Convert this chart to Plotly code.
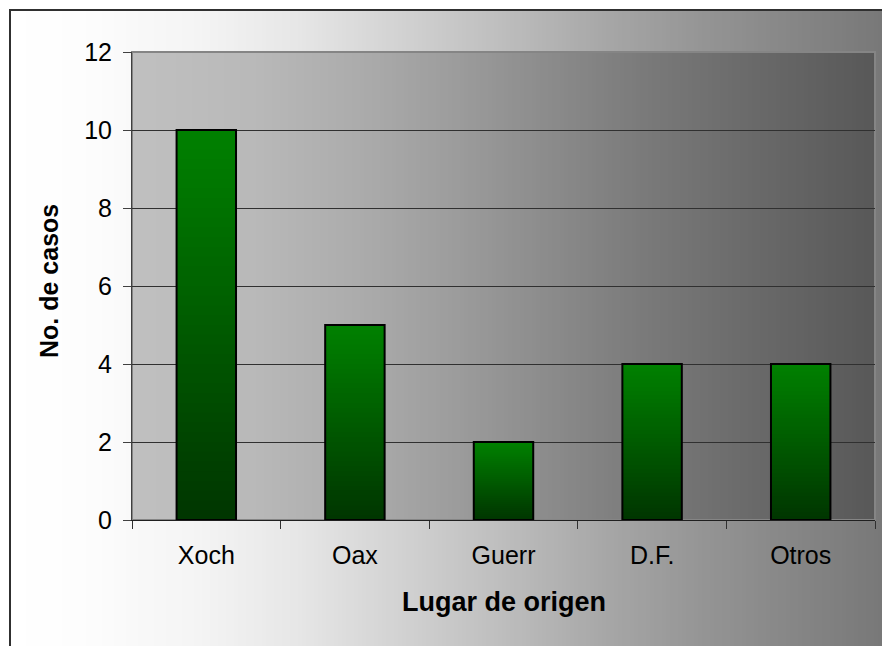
import numpy as np
import plotly.graph_objs as go

# data
categories = ["Xoch", "Oax", "Guerr", "D.F.", "Otros"]
casos = [10, 5, 2, 4, 4]
y_ticks = [0, 2, 4, 6, 8, 10, 12]

W, H = 882, 646
L, R, T, B = 132, 7, 52, 126
PW, PH = W - L - R, H - T - B


def px_x(p):
    # pixel column -> paper x
    return (p - L) / PW


def px_y(p):
    # pixel row -> paper y
    return (H - B - p) / PH


def interp_gray(stops, p):
    xs = [s[0] for s in stops]
    vs = [s[1] for s in stops]
    g = int(round(np.interp(p, xs, vs)))
    return "rgb({0},{0},{0})".format(g)


# horizontal gray gradients (pixel position, gray level)
paper_stops = [(10, 255), (80, 253), (200, 244), (300, 230), (400, 210),
               (500, 190), (600, 168), (700, 149), (800, 133), (882, 120)]
plot_stops = [(132, 192), (250, 185), (350, 173), (450, 157), (550, 139),
              (650, 121), (750, 106), (875, 88)]

shapes = []
step = 4
for x0 in range(10, W, step):
    shapes.append(dict(type="rect", xref="paper", yref="paper", layer="below",
                       x0=px_x(x0), x1=px_x(x0 + step + 1), y0=px_y(H + 10), y1=px_y(10),
                       fillcolor=interp_gray(paper_stops, x0 + step / 2), line=dict(width=0)))
for x0 in range(L, W - R, step):
    shapes.append(dict(type="rect", xref="paper", yref="paper", layer="below",
                       x0=px_x(x0), x1=min(1, px_x(x0 + step + 1)), y0=0, y1=1,
                       fillcolor=interp_gray(plot_stops, x0 + step / 2), line=dict(width=0)))
# plot area border and outer chart border
shapes.append(dict(type="rect", xref="paper", yref="paper", layer="below",
                   x0=0, x1=1, y0=0, y1=1, line=dict(color="#858585", width=2)))
shapes.append(dict(type="rect", xref="paper", yref="paper", layer="above",
                   x0=px_x(10), x1=px_x(W + 20), y0=px_y(H + 20), y1=px_y(10),
                   line=dict(color="#303030", width=2)))

fig = go.Figure()

# vertical green gradient: stacked shrinking bars, bright on top, dark at the bottom
N = 40
top_rgb = np.array([0, 128, 0])
bot_rgb = np.array([0, 54, 0])
for k in range(N):
    f = k / (N - 1)
    c = top_rgb + (bot_rgb - top_rgb) * f
    fig.add_trace(go.Bar(
        x=categories, y=[v * (N - k) / N for v in casos], width=0.4,
        marker=dict(color="rgb({},{},{})".format(*[int(round(u)) for u in c]), line=dict(width=0)),
        showlegend=False, hoverinfo="skip"))

# outline
fig.add_trace(go.Bar(
    x=categories, y=casos, width=0.4,
    marker=dict(color="rgba(0,0,0,0)", line=dict(color="black", width=2)),
    showlegend=False, hovertemplate="%{x}: %{y}<extra></extra>"))

fig.update_layout(
    width=W, height=H,
    margin=dict(l=L, r=R, t=T, b=B, pad=0),
    barmode="overlay",
    paper_bgcolor="white", plot_bgcolor="rgba(0,0,0,0)",
    font=dict(family="Liberation Sans, Arial, sans-serif", color="black"),
    shapes=shapes,
    annotations=[
        dict(text="<b>Lugar de origen</b>", xref="paper", yref="paper",
             x=0.5, y=px_y(602), xanchor="center", yanchor="middle",
             showarrow=False, font=dict(size=27, color="black")),
        dict(text="<b>No. de casos</b>", xref="paper", yref="paper",
             x=px_x(49), y=px_y(281), xanchor="center", yanchor="middle",
             textangle=-90, showarrow=False, font=dict(size=25, color="black")),
    ],
)

fig.update_xaxes(
    showgrid=False, showline=True, linecolor="#202020", linewidth=1,
    ticks="outside", tickson="boundaries", ticklen=8, tickcolor="#303030",
    tickfont=dict(size=25), ticklabelstandoff=13, zeroline=False,
)
fig.update_yaxes(
    range=[0, 12], tickvals=y_ticks, showgrid=True, gridcolor="#303030", gridwidth=1,
    showline=True, linecolor="#404040", linewidth=1, zeroline=False,
    ticks="outside", ticklen=8, tickcolor="#404040",
    tickfont=dict(size=25), ticklabelstandoff=6,
)

fig.write_html("out.html", config={"displayModeBar": False},
               post_script="document.body.style.margin='0';")
